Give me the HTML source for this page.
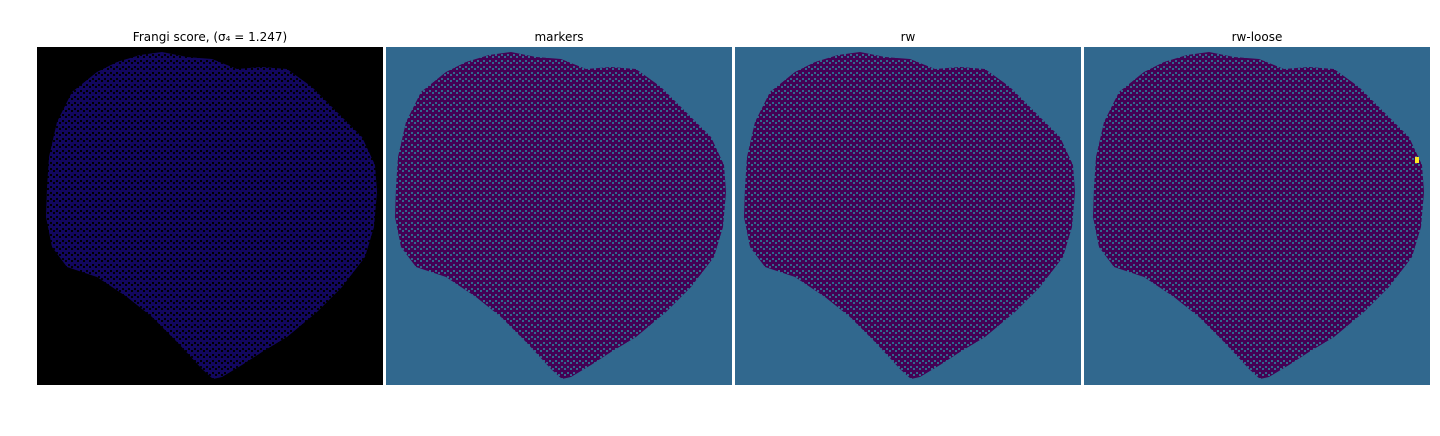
<!DOCTYPE html>
<html><head><meta charset="utf-8"><style>
body{margin:0;background:#fff;width:1440px;height:432px;overflow:hidden;font-family:"DejaVu Sans","Liberation Sans",sans-serif}
</style></head><body>
<svg width="1440" height="432">
<defs>
<path id="blob" d="M103,8 L125,5 L150,10 L175,12 L200,22 L225,20 L250,22 L275,40 L300,65 L325,90 L338,118 L340,145 L337,180 L328,210 L305,240 L280,265 L250,290 L225,305 L205,318 L185,330 L176,332 L165,322 L140,295 L115,270 L90,250 L60,230 L30,220 L15,200 L9,170 L10,140 L12,110 L20,75 L35,45 L60,25 L80,15 Z"/>
<pattern id="dotsA" width="6" height="6" patternUnits="userSpaceOnUse"><rect width="6" height="6" fill="#12075e"/><rect x="1" y="1" width="2" height="2" fill="#000"/><rect x="4" y="3" width="2" height="2" fill="#000"/></pattern>
<pattern id="dotsB" width="6" height="6" patternUnits="userSpaceOnUse"><rect width="6" height="6" fill="#440154"/><rect x="1" y="1" width="2" height="2" fill="#31688e"/><rect x="4" y="3" width="2" height="2" fill="#31688e"/></pattern>
</defs>
<g>
<text x="210" y="41" font-size="12" text-anchor="middle">Frangi score, (σ₄ = 1.247)</text>
<rect x="37" y="47" width="346" height="338" fill="#000"/>
<use href="#blob" x="37" y="47" fill="url(#dotsA)"/>
</g>
<g>
<text x="559" y="41" font-size="12" text-anchor="middle">markers</text>
<rect x="386" y="47" width="346" height="338" fill="#31688e"/>
<use href="#blob" x="386" y="47" fill="url(#dotsB)"/>
</g>
<g>
<text x="908" y="41" font-size="12" text-anchor="middle">rw</text>
<rect x="735" y="47" width="346" height="338" fill="#31688e"/>
<use href="#blob" x="735" y="47" fill="url(#dotsB)"/>
</g>
<g>
<text x="1257" y="41" font-size="12" text-anchor="middle">rw-loose</text>
<rect x="1084" y="47" width="346" height="338" fill="#31688e"/>
<use href="#blob" x="1084" y="47" fill="url(#dotsB)"/>
<rect x="1415" y="157" width="4" height="6" fill="#fde725"/>
</g>
</svg>
</body></html>
